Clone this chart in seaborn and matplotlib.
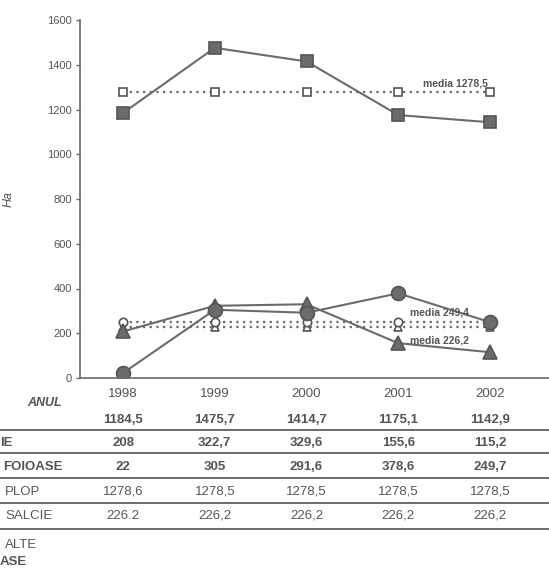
import matplotlib
matplotlib.use("Agg")
import matplotlib.pyplot as plt
from matplotlib.lines import Line2D
import seaborn as sns
import pandas as pd

# ---- data ----
years = [1998, 1999, 2000, 2001, 2002]
plop = [1184.5, 1475.7, 1414.7, 1175.1, 1142.9]
salcie = [208, 322.7, 329.6, 155.6, 115.2]
alte_foioase = [22, 305, 291.6, 378.6, 249.7]
media_plop = [1278.6, 1278.6, 1278.6, 1278.6, 1278.6]
media_salcie = [226.2, 226.2, 226.2, 226.2, 226.2]
media_alte = [249.4, 249.4, 249.4, 249.4, 249.4]
y_ticks = [0, 200, 400, 600, 800, 1000, 1200, 1400, 1600]

tbl_plop = ["1184,5", "1475,7", "1414,7", "1175,1", "1142,9"]
tbl_salcie = ["208", "322,7", "329,6", "155,6", "115,2"]
tbl_alte = ["22", "305", "291,6", "378,6", "249,7"]
tbl_mplop = ["1278,6", "1278,5", "1278,5", "1278,5", "1278,5"]
tbl_msalcie = ["226.2", "226,2", "226,2", "226,2", "226,2"]

sns.set_theme(style="white")
plt.rcParams['font.family'] = ['Liberation Sans', 'DejaVu Sans']

W, H = 549, 569
fig = plt.figure(figsize=(W / 100, H / 100), dpi=100)
fx = lambda x: x / W
fy = lambda y: 1 - y / H
ax = fig.add_axes([fx(80), fy(378), 1 - fx(80), fy(20) - fy(378)])

gray = "#6b6b6b"
dark = "#555555"
txt = "#555555"

def draw(vals, marker, ms, ls, filled, lw):
    df = pd.DataFrame({"an": years, "v": vals})
    sns.lineplot(data=df, x="an", y="v", ax=ax, color=gray, linestyle=ls,
                 linewidth=lw, marker=marker, markersize=ms,
                 markerfacecolor=(gray if filled else "white"),
                 markeredgecolor=dark, markeredgewidth=1.2)

draw(media_plop, "s", 6, (0, (1, 2.0)), False, 1.6)
draw(media_salcie, "^", 6, (0, (1, 2.0)), False, 1.6)
draw(media_alte, "o", 6, (0, (1, 2.0)), False, 1.6)
draw(plop, "s", 9, "-", True, 1.5)
draw(salcie, "^", 10, "-", True, 1.5)
draw(alte_foioase, "o", 10, "-", True, 1.5)

ax.set_xlim(1997.531, 2002.643)
ax.set_ylim(0, 1600)
ax.set_yticks(y_ticks)
ax.set_yticklabels([str(t) for t in y_ticks], fontsize=8, color=txt)
ax.set_xticks(years)
ax.set_xticklabels([str(y) for y in years], fontsize=9.5, color=txt)
ax.tick_params(axis="x", length=0, pad=7)
ax.tick_params(axis="y", length=3, width=1, color=gray, left=True, pad=3)
for s in ["top", "right"]:
    ax.spines[s].set_visible(False)
ax.spines["left"].set_color(gray)
ax.spines["bottom"].set_color(gray)
ax.spines["left"].set_linewidth(1.2)
ax.spines["bottom"].set_linewidth(1.2)
ax.set_xlabel("")
ax.set_ylabel("Ha", fontsize=9, style="italic", color=txt)
ax.yaxis.set_label_coords(-0.139, 0.5)

ax.text(2001.62, 1318, "media 1278,5", fontsize=7.5, color=txt,
        fontweight="bold", ha="center", va="center")
ax.text(2001.45, 293, "media 249,4", fontsize=7.5, color=txt,
        fontweight="bold", ha="center", va="center")
ax.text(2001.45, 168, "media 226,2", fontsize=7.5, color=txt,
        fontweight="bold", ha="center", va="center")

# ---- table below the chart ----
trans = ax.get_xaxis_transform()
ay = lambda y: (378 - y) / (378 - 20)

rows = [(tbl_plop, 420, "bold"), (tbl_salcie, 443, "bold"),
        (tbl_alte, 467, "bold"), (tbl_mplop, 492, "normal"),
        (tbl_msalcie, 516, "normal")]
for vals, y, wt in rows:
    for yr, v in zip(years, vals):
        ax.text(yr, ay(y), v, transform=trans, fontsize=9.5, color=txt,
                fontweight=wt, ha="center", va="center", clip_on=False)

for y in [430, 453, 478, 503, 529]:
    fig.add_artist(Line2D([0, 1], [fy(y), fy(y)], color=gray, lw=1.4))

fig.text(fx(45), fy(403), "ANUL", fontsize=9, style="italic",
         fontweight="bold", color=txt, ha="center", va="center")
fig.text(fx(0), fy(443), "IE", fontsize=9.5, fontweight="bold",
         color=txt, ha="left", va="center")
fig.text(fx(3), fy(467), "FOIOASE", fontsize=9.5, fontweight="bold",
         color=txt, ha="left", va="center")
fig.text(fx(5), fy(492), "PLOP", fontsize=9.5, color=txt,
         ha="left", va="center")
fig.text(fx(5), fy(516), "SALCIE", fontsize=9.5, color=txt,
         ha="left", va="center")
fig.text(fx(5), fy(545), "ALTE", fontsize=9.5, color=txt,
         ha="left", va="center")
fig.text(fx(0), fy(562), "ASE", fontsize=9.5, fontweight="bold",
         color=txt, ha="left", va="center")

fig.savefig("out.png", dpi=100)
